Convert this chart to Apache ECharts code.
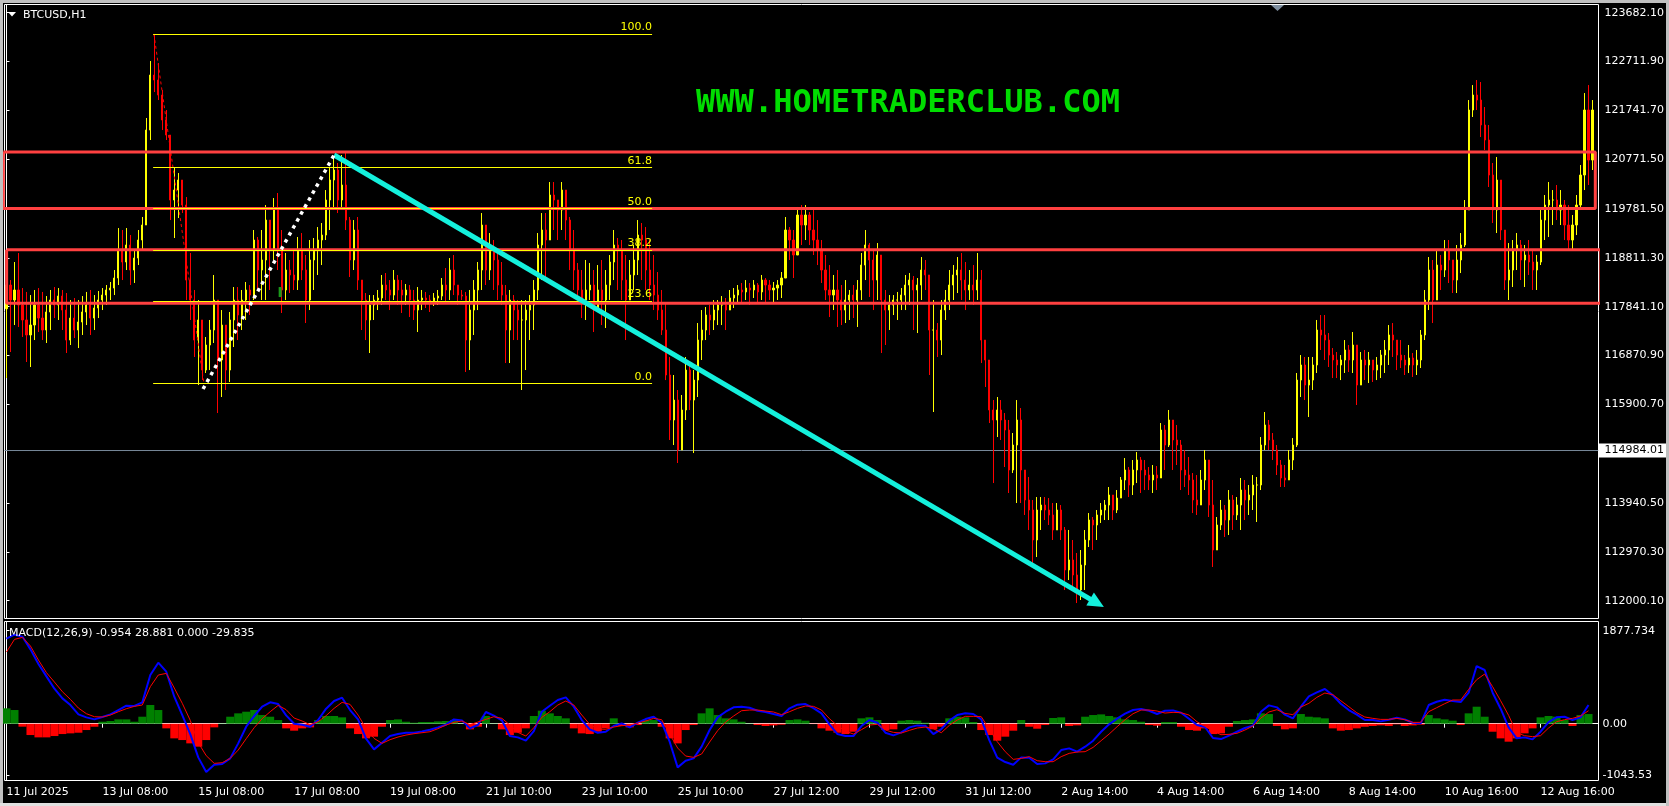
<!DOCTYPE html>
<html><head><meta charset="utf-8">
<script src="https://cdn.jsdelivr.net/npm/echarts@6/dist/echarts.min.js"></script>
<style>html,body{margin:0;padding:0;background:#000;}#c{width:1669px;height:806px;}</style>
</head><body><div id="c"></div>
<script>
// ---------- DATA ----------
const timeLabels = ['11 Jul 2025','13 Jul 08:00','15 Jul 08:00','17 Jul 08:00','19 Jul 08:00','21 Jul 10:00','23 Jul 10:00','25 Jul 10:00','27 Jul 12:00','29 Jul 12:00','31 Jul 12:00','2 Aug 14:00','4 Aug 14:00','6 Aug 14:00','8 Aug 14:00','10 Aug 16:00','12 Aug 16:00'];
const barsPerLabel = 24; // 2-hour bars between time labels

const firstOpen = 117800;
const high = [
118431,118371,118729,118908,118212,118134,118073,118173,118212,118134,
118053,118173,118232,118212,118173,118113,117974,118014,117974,118053,
118134,118173,118073,118153,118212,118272,118332,118570,119404,119365,
119404,119265,118967,119365,119623,121590,122722,123259,122682,122146,
121749,121212,120616,120497,120358,120020,118908,118173,117974,117318,
117239,117577,118471,117974,117775,117438,117736,118232,118232,118173,
118332,118272,119365,119226,119365,119861,119365,120000,120100,119365,
118908,118769,118967,119226,119305,118868,119166,119206,119424,119504,
120159,120596,120815,120696,120855,120894,119623,119563,119623,118371,
118113,118073,118073,118173,118471,118510,118371,118570,118471,118371,
118292,118272,118173,118232,118173,118134,118073,118113,118173,118411,
118610,118808,118868,118272,118173,118134,118173,118371,118729,119702,
119166,119305,119166,118967,118729,118272,118173,118073,117974,117974,
117974,118073,118371,119305,119702,119702,120318,120318,119961,120318,
120159,119623,119365,118709,118570,118769,118709,118570,118669,118769,
118570,118868,119365,119206,119166,118868,118769,119067,119563,119504,
119424,119166,118868,118530,118173,117914,116842,116484,116186,116087,
116842,116683,116583,117517,117775,117835,117875,117974,117974,118053,
118014,118173,118212,118272,118312,118371,118312,118371,118312,118471,
118411,118371,118332,118371,118530,119623,119424,119365,119822,119861,
119861,119722,119762,119563,119166,118868,118669,118471,118570,118272,
118371,118173,118272,118371,118908,119365,119106,118967,119106,118272,
118173,118073,118073,118134,118212,118471,118510,118451,118411,118828,
118769,118173,117974,117517,117974,118173,118570,118669,118828,118908,
118729,118570,118669,118908,118570,116981,116524,115987,116047,115987,
115729,115590,115332,115987,115828,114597,114458,114001,114060,114060,
114060,114040,113941,113941,113901,113464,113405,113206,112948,113007,
113405,113742,113663,113802,113941,114001,114259,114100,114199,114458,
114835,114656,114795,114954,114855,114795,114656,114696,114676,115530,
115491,115789,115590,115491,115193,114994,114855,114537,114497,114597,
114994,114597,114398,113663,114001,113901,114199,114100,114060,114438,
114398,114299,114497,114458,115252,115749,115590,115332,115093,114795,
114696,114994,115232,116524,116881,116842,116842,116842,117577,117676,
117676,117318,117020,116941,116881,117179,117080,117338,116881,116941,
116981,116941,116782,116842,116981,117179,117477,117517,117179,117179,
116881,117080,116921,116981,117378,118173,118828,118769,118967,118868,
119166,119166,118769,119067,119305,119961,121947,122245,122345,122305,
121808,121451,120696,120815,119961,119226,119106,119166,119305,119166,
119067,119166,118967,118868,119762,120060,120318,120159,120259,120159,
119961,119861,119663,120060,120656,122086,122245,121947];
const low = [
116424,116941,117477,117438,117239,116742,116643,117179,117338,117179,
117120,117378,117616,117577,117378,116921,117080,117219,117020,117279,
117477,117279,117378,117616,117775,117875,117974,118073,118272,118371,
118570,118272,118312,118669,118967,119464,121153,122106,121947,121351,
121153,119563,119206,119603,119702,117974,117577,116842,116285,116385,
116524,116583,117120,115729,116047,116186,116345,117040,117179,117378,
117577,117676,117974,118173,117974,117974,118173,118769,118570,117716,
117974,118113,118173,118173,118371,117517,117775,118173,118471,118669,
119166,119365,119762,119702,119822,119365,118431,118570,118173,117378,
117179,116921,117577,117775,117875,117974,117775,117974,117875,117716,
117875,117636,117577,117338,117775,117815,117736,117855,117875,117974,
117914,117974,118073,117875,117974,116544,116583,117279,117775,118173,
118272,118371,118173,117974,117875,116722,116722,117179,117179,116186,
116583,117179,117378,117974,118371,118431,119166,119365,119166,119365,
119166,118570,118173,117974,117616,117577,117974,117338,117775,117477,
117418,117974,118371,118173,117974,117179,117974,118173,118471,118371,
118173,117974,117775,117577,117279,116384,115193,115093,114736,115034,
115590,115789,114934,116047,116782,117179,117279,117378,117477,117477,
117378,117775,117815,117914,117914,117974,117875,118014,117934,117974,
117934,117974,117914,117974,118014,118471,118769,118411,118967,119067,
119166,119067,118868,118669,118312,117974,117636,117775,117438,117477,
117517,117577,117616,117438,117974,118371,118034,117775,117974,116921,
117080,117378,117676,117577,117775,117775,117875,117378,117318,117974,
118173,116484,115749,116842,116881,117577,117775,117974,118113,117974,
117775,117974,117875,117974,116722,116246,115530,114338,115252,115193,
114656,114140,114537,113941,113941,113703,113405,112670,112868,113405,
113603,113504,113206,113405,113206,112213,112411,112213,111954,112014,
112213,113067,113007,113206,113544,113603,113603,113603,113742,114060,
114199,114060,114100,114338,114140,114199,114199,114140,114199,114557,
114597,115054,114597,114696,114199,114259,114100,113742,113703,114001,
114199,113663,112670,113067,113405,113266,113305,113405,113603,113405,
113603,113703,113802,113564,114199,114994,114994,114795,114497,114259,
114259,114398,114597,115054,116047,115987,115650,116186,116524,116981,
116782,116643,116424,116424,116384,116524,116544,116524,115888,116325,
116384,116325,116345,116384,116424,116524,116683,116842,116583,116623,
116484,116524,116444,116484,116623,117179,117775,117517,117974,118173,
118431,118312,118113,118113,118510,119027,119961,121610,121749,121212,
120954,120219,119504,119305,119166,118173,117974,118232,118570,118371,
118232,118471,118173,118173,118669,119166,119226,119464,119563,119464,
119166,118967,118967,119265,119762,120159,120259,120557];
const close = [
118272,117974,118173,117875,117577,117279,117477,117875,117616,117378,
117736,117974,117875,118053,117775,117179,117616,117378,117537,117736,
117875,117616,117815,117974,118073,118173,118212,118411,118967,118729,
119067,118570,118808,119166,119464,121351,122444,122345,122047,121550,
121252,119961,120159,120358,119861,118371,117974,117179,117577,116583,
117080,117378,117974,116782,117477,116583,117577,117974,117676,117974,
118173,118073,119166,118570,118769,119563,118967,119762,118967,118173,
118570,118471,118371,118967,118570,117974,118769,118967,119166,119265,
119961,120358,120557,119961,120259,119563,118769,119365,118371,117974,
117577,117875,117974,118014,118272,118173,118073,118371,118173,118073,
118173,117974,117775,117974,118014,117974,117934,118014,118053,118272,
118173,118570,118272,118073,118053,117179,117775,118173,118570,119464,
118570,118967,118769,118272,118073,117378,117974,117775,117577,117577,
117775,117875,118173,119067,119365,119166,120060,119961,119762,120159,
119563,118967,118570,118173,117974,118173,118272,117775,118173,117974,
118272,118729,119067,118967,118371,117974,118471,118769,119265,119166,
118570,118272,118073,117775,117378,116484,115590,115987,114994,115789,
116583,115987,116384,117179,117378,117676,117577,117775,117875,117875,
117775,118014,118073,118173,118134,118212,118173,118272,118134,118371,
118272,118173,118212,118272,118411,119365,119166,118868,119663,119464,
119663,119365,119166,118967,118570,118173,118073,118173,117974,117775,
117974,118073,117974,118173,118669,119067,118769,118371,118868,117974,
117775,117875,117974,117974,118073,118272,118371,118173,118272,118570,
118471,117378,117378,117179,117775,117974,118272,118471,118570,118371,
118173,118272,118173,118371,117179,116782,115789,115590,115789,115590,
115391,114597,115093,115590,114597,114001,113802,113206,113802,113901,
113802,113703,113405,113802,113405,112610,112809,112511,112213,112709,
113206,113603,113504,113703,113802,113901,114100,113802,114040,114398,
114597,114299,114597,114795,114597,114497,114398,114497,114438,115391,
115093,115590,115193,115093,114597,114497,114398,114001,113901,114398,
114795,113901,113007,113504,113802,113603,114001,113703,113901,114199,
114001,114100,114299,114299,115093,115491,115193,114994,114696,114438,
114398,114795,115093,116384,116683,116285,116384,116683,117378,117279,
117179,116881,116782,116683,116782,116981,116782,117080,116285,116782,
116683,116782,116583,116683,116881,116981,117279,117179,116881,116782,
116683,116822,116683,116782,117279,117974,118570,117974,118669,118570,
118967,118769,118371,118769,119067,119762,121749,122047,121947,121451,
121153,120457,119762,120358,119365,118371,118570,118967,119067,118769,
118868,118729,118570,118729,119563,119861,119961,119961,119762,119861,
119464,119166,119464,119861,120457,121749,120755,121749];

// MACD values, one every 2 bars (4 hours)
const macdMain = [
1716,1797,1757,1501,1205,956,707,511,377,188,
128,87,135,188,276,363,357,431,983,1232,
1050,545,175,-209,-680,-976,-828,-814,-700,-397,
-61,155,343,431,397,168,0,-20,-61,74,
303,458,525,276,87,-303,-518,-384,-249,-209,
-182,-182,-155,-121,-74,-20,87,67,-94,-27,
236,162,67,-249,-276,-343,-148,242,363,478,
532,343,74,-114,-182,-162,-47,7,-74,20,
94,141,20,-363,-882,-747,-700,-464,-128,128,
242,330,343,323,262,236,195,155,310,384,
397,316,209,-13,-209,-249,-249,-47,74,20,
-182,-236,-175,-74,-34,-40,-209,-108,61,175,
209,195,87,-330,-686,-774,-828,-680,-686,-814,
-801,-720,-532,-498,-565,-464,-343,-162,-13,101,
202,276,296,262,195,262,269,222,101,-27,
-67,-289,-310,-242,-162,-87,-40,242,370,330,
182,108,343,552,633,700,572,404,276,182,
74,74,47,81,121,87,20,7,377,444,
485,458,437,626,1164,1084,626,303,-74,-296,
-276,-316,-162,34,128,141,74,128,377];
const macdSignal = [
1447,1703,1743,1568,1285,1030,841,646,491,316,
202,141,135,175,242,303,350,377,747,983,
1016,720,411,67,-384,-646,-801,-787,-700,-532,
-303,-81,101,242,370,283,114,54,-20,40,
162,310,431,390,175,-94,-296,-397,-323,-269,
-229,-202,-182,-162,-101,-27,27,54,-20,34,
87,141,108,-27,-175,-249,-81,128,242,377,
458,377,175,-13,-108,-114,-67,-40,-27,13,
54,108,81,-209,-491,-653,-680,-612,-370,-141,
34,155,262,276,276,256,236,182,242,310,
357,350,276,101,-40,-148,-209,-121,-27,-13,
-128,-175,-188,-135,-87,-67,-101,-182,-34,74,
148,148,141,-108,-363,-565,-720,-700,-666,-747,
-767,-767,-666,-599,-572,-565,-478,-343,-209,-61,
81,202,276,276,256,215,229,222,175,40,
-54,-148,-222,-215,-195,-128,-47,114,236,283,
209,182,337,411,532,619,586,464,343,222,
135,108,87,87,108,81,27,27,242,323,
404,478,478,693,888,1003,747,464,168,-182,
-242,-262,-242,-87,40,81,108,155,262];
const macdHist = [
310,276,-60,-229,-276,-276,-249,-209,-195,-182,
-128,-61,40,54,87,87,40,141,377,276,
-94,-296,-330,-397,-464,-330,-74,7,141,209,
242,276,175,141,74,-94,-141,-94,-74,74,
155,155,128,-94,-209,-296,-262,-61,74,87,
40,20,34,34,47,54,74,7,-114,-61,
155,7,-114,-229,-182,-94,155,262,209,155,
108,-94,-195,-209,-162,-94,108,-47,-74,-27,
74,74,-61,-296,-397,-128,-27,209,310,175,
108,87,40,7,-27,-47,-34,-20,74,87,
61,-7,-94,-141,-182,-209,-162,108,128,74,
-128,-114,61,74,61,20,-114,-61,108,141,
128,34,-128,-229,-343,-262,-141,74,-61,-101,
-27,115,128,-47,-34,141,175,188,155,128,
87,74,40,-27,-40,34,34,-61,-128,-141,
-94,-209,-195,-61,54,74,87,209,195,-47,
-114,-94,195,141,128,108,-94,-141,-128,-94,
-61,-47,-34,-47,-13,-47,-34,-20,175,108,
87,61,-27,209,343,141,-162,-296,-363,-296,
-195,-94,128,155,141,74,-47,175,195];
const macdStep = 2;

const priceTicks = [112000.10,112970.30,113940.50,115900.70,116870.90,117841.10,118811.30,119781.50,120771.50,121741.70,122711.90,123682.10];
const macdTicks = [1877.734, 0, -1043.53];
const macdTickLabels = ['1877.734','0.00','-1043.53'];
const bidPrice = 114984.01;

// chart objects, in (bar index, price)
const fibLevels = [0, 23.6, 38.2, 50, 61.8, 100];
const fibHighPrice = 123260, fibLowPrice = 116320;
const fibSpan = [36.7, 161.6];
const fibDiagonal = [[36.9, 123260], [49.4, 116320]];
const zones = [[-0.8, 120914, 397.7, 119790], [0.03, 118971, 399.1, 117908]];
const arrowLine = [[82.0, 120855], [272.97, 111954]];
const dottedLine = [[49.2, 116206], [82.0, 120855]];
const greenMark = [[68.5, 118232], [68.5, 118033]];

// ---------- CHART ----------
const N = 399;
const cats = Array.from({length: N}, (_, i) => String(i));
const candles = close.map((c, i) => [i === 0 ? firstOpen : close[i - 1], c, low[i], high[i]]);
const fibPrice = l => fibLowPrice + (fibHighPrice - fibLowPrice) * l / 100;
const rectPath = z => [[z[0], z[1]], [z[2], z[1]], [z[2], z[3]], [z[0], z[3]], [z[0], z[1]]];
const F = '"DejaVu Sans"';

const chart = echarts.init(document.getElementById('c'), null, {renderer: 'canvas', devicePixelRatio: 1});
const option = {
  animation: false,
  backgroundColor: '#000',
  textStyle: {fontFamily: 'DejaVu Sans', fontSize: 11},
  grid: [
    {left: 4.5, top: 4.5, width: 1594, height: 614, show: true, borderColor: '#fff', borderWidth: 1, backgroundColor: 'transparent', containLabel: false, outerBoundsMode: 'none'},
    {left: 4.5, top: 621.5, width: 1594, height: 159, show: true, borderColor: '#fff', borderWidth: 1, backgroundColor: 'transparent', containLabel: false, outerBoundsMode: 'none'}
  ],
  xAxis: [
    {type: 'category', gridIndex: 0, data: cats, boundaryGap: true, show: false},
    {type: 'value', gridIndex: 0, min: -0.5, max: N - 0.5, show: false},
    {type: 'category', gridIndex: 1, data: cats, boundaryGap: true,
      axisLine: {show: true, lineStyle: {color: '#fff', width: 1}},
      axisTick: {show: true, alignWithLabel: true, length: 4, interval: (i) => i % barsPerLabel === 0, lineStyle: {color: '#fff'}},
      axisLabel: {show: true, interval: (i) => i % barsPerLabel === 0, color: '#fff', fontSize: 11, fontFamily: 'DejaVu Sans', align: 'left', margin: 6,
        formatter: (v, i) => (i % barsPerLabel === 0 && timeLabels[i / barsPerLabel]) ? timeLabels[i / barsPerLabel] : ''},
      splitLine: {show: false}},
    {type: 'value', gridIndex: 1, min: -0.5, max: N - 0.5, show: false}
  ],
  yAxis: [
    {type: 'value', gridIndex: 0, position: 'right', min: 111646.7, max: 123845.0, scale: true,
      axisLine: {show: true, lineStyle: {color: '#fff'}},
      axisTick: {show: true, length: 3, customValues: priceTicks, lineStyle: {color: '#fff'}},
      axisLabel: {show: true, customValues: priceTicks, color: '#fff', fontSize: 11, fontFamily: 'DejaVu Sans', margin: 6, formatter: v => v.toFixed(2)},
      splitLine: {show: false}},
    {type: 'value', gridIndex: 1, position: 'right', min: -1146.8, max: 2063.4, scale: true,
      axisLine: {show: true, lineStyle: {color: '#fff'}},
      axisTick: {show: true, length: 3, customValues: macdTicks, lineStyle: {color: '#fff'}},
      axisLabel: {show: true, customValues: macdTicks, color: '#fff', fontSize: 11, fontFamily: 'DejaVu Sans', margin: 4,
        formatter: v => { const k = macdTicks.findIndex(t => Math.abs(t - v) < 1e-6); return k >= 0 ? macdTickLabels[k] : ''; }},
      splitLine: {show: false}}
  ],
  series: [
    {type: 'line', xAxisIndex: 1, yAxisIndex: 0, data: [[-0.5, bidPrice], [N - 0.5, bidPrice]], symbol: 'none', silent: true, z: 1,
      lineStyle: {color: '#778899', width: 1},
      endLabel: {show: true, formatter: () => bidPrice.toFixed(2), color: '#000', backgroundColor: '#fff', padding: [2, 4, 1, 6], distance: 0, fontSize: 11, fontFamily: 'DejaVu Sans'}},
    {type: 'candlestick', xAxisIndex: 0, yAxisIndex: 0, data: candles, barWidth: 1.6, z: 2,
      itemStyle: {color: '#ffff00', color0: '#ff0000', borderColor: '#ffff00', borderColor0: '#ff0000', borderWidth: 1}},
    {type: 'line', xAxisIndex: 1, yAxisIndex: 0, data: [[fibSpan[0], fibHighPrice]], symbol: 'none', silent: true, z: 3,
      markLine: {silent: true, symbol: 'none', animation: false,
        lineStyle: {color: '#ffff00', width: 1, type: 'solid'},
        label: {show: true, position: 'insideEndTop', formatter: '{b}', color: '#ffff00', fontSize: 11, fontFamily: 'DejaVu Sans', distance: [0, 1]},
        emphasis: {disabled: true},
        data: fibLevels.map(l => [{name: l.toFixed(1), coord: [fibSpan[0], fibPrice(l)]}, {coord: [fibSpan[1], fibPrice(l)]}])}},
    {type: 'line', xAxisIndex: 1, yAxisIndex: 0, data: fibDiagonal, symbol: 'none', silent: true, z: 3,
      lineStyle: {color: '#ff0000', width: 1, type: [3, 3]}},
    ...zones.map(z => ({type: 'line', xAxisIndex: 1, yAxisIndex: 0, data: rectPath(z), symbol: 'none', silent: true, clip: false, z: 4,
      lineStyle: {color: '#ff4040', width: 3}})),
    {type: 'line', xAxisIndex: 1, yAxisIndex: 0, data: greenMark, symbol: 'none', silent: true, z: 4,
      lineStyle: {color: '#1a9a1a', width: 3}},
    {type: 'line', xAxisIndex: 1, yAxisIndex: 0, data: dottedLine, symbol: 'none', silent: true, z: 5,
      lineStyle: {color: '#ffffff', width: 3.5, type: [3.5, 4.5], cap: 'butt'}},
    {type: 'line', xAxisIndex: 1, yAxisIndex: 0, data: [arrowLine[0]], symbol: 'none', silent: true, z: 6,
      markLine: {silent: true, animation: false, symbol: ['none', 'triangle'], symbolSize: [15, 16],
        lineStyle: {color: '#14f0dc', width: 5, type: 'solid'}, itemStyle: {color: '#14f0dc'},
        label: {show: false}, emphasis: {disabled: true},
        data: [[{coord: arrowLine[0]}, {coord: arrowLine[1]}]]}},
    {type: 'bar', xAxisIndex: 3, yAxisIndex: 1, data: macdHist.map((v, j) => [j * macdStep, v]), barWidth: 8, silent: true, z: 1,
      itemStyle: {color: p => p.value[1] >= 0 ? '#008000' : '#ff0000'}},
    {type: 'line', xAxisIndex: 3, yAxisIndex: 1, data: macdMain.map((v, j) => [j * macdStep, v]), symbol: 'none', silent: true, z: 2,
      lineStyle: {color: '#0000ff', width: 2}},
    {type: 'line', xAxisIndex: 3, yAxisIndex: 1, data: macdSignal.map((v, j) => [j * macdStep, v]), symbol: 'none', silent: true, z: 3,
      lineStyle: {color: '#ff0000', width: 1}}
  ],
  graphic: [
    {type: 'rect', silent: true, z: 100, shape: {x: 0, y: 0, width: 1669, height: 3}, style: {fill: '#c0c0c0'}},
    {type: 'rect', silent: true, z: 100, shape: {x: 0, y: 0, width: 3, height: 806}, style: {fill: '#c0c0c0'}},
    {type: 'rect', silent: true, z: 100, shape: {x: 0, y: 803, width: 1669, height: 3}, style: {fill: '#e0e0e0'}},
    {type: 'rect', silent: true, z: 100, shape: {x: 1666, y: 0, width: 3, height: 806}, style: {fill: '#c0c0c0'}},
    {type: 'polygon', silent: true, z: 100, shape: {points: [[8, 12], [16, 12], [12, 16.5]]}, style: {fill: '#fff'}},
    {type: 'text', silent: true, z: 100, x: 23, y: 15, style: {text: 'BTCUSD,H1', fill: '#fff', font: '11px ' + F, verticalAlign: 'middle'}},
    {type: 'polygon', silent: true, z: 100, shape: {points: [[1271, 5], [1284, 5], [1277.5, 11]]}, style: {fill: '#7f8fa0'}},
    {type: 'text', silent: true, z: 0, x: 908, y: 104, style: {text: 'WWW.HOMETRADERCLUB.COM', fill: '#00dd00', font: 'bold 32px "DejaVu Sans Mono"', align: 'center', verticalAlign: 'middle'}},
    {type: 'text', silent: true, z: 100, x: 9, y: 633, style: {text: 'MACD(12,26,9) -0.954 28.881 0.000 -29.835', fill: '#fff', font: '11px ' + F, verticalAlign: 'middle'}}
  ]
};
chart.setOption(option);
</script>
</body></html>
